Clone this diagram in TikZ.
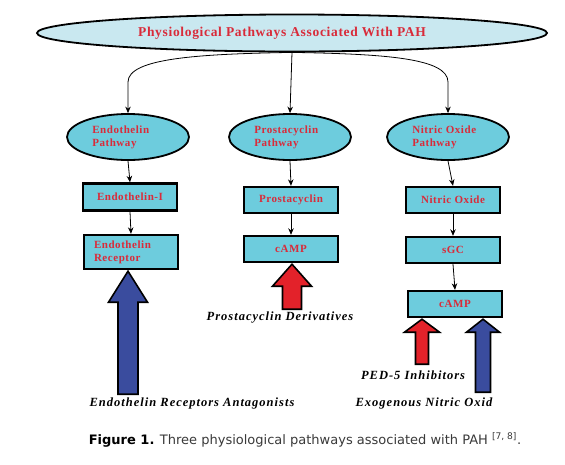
\documentclass[tikz,border=0pt]{standalone}
\usepackage{fontspec}
\setmainfont{Liberation Serif}
\newfontfamily\boxfont{Liberation Serif}[LetterSpace=5]
\newfontfamily\lblfont{Liberation Serif}[LetterSpace=8]
\newfontfamily\capfont{DejaVu Sans}
\usetikzlibrary{shapes.geometric,arrows.meta,calc}
\definecolor{boxcyan}{HTML}{6DCCDD}
\definecolor{topblue}{HTML}{C9E8F0}
\definecolor{txtred}{HTML}{D92B3A}
\definecolor{arrblue}{HTML}{3A4C9E}
\definecolor{arrred}{HTML}{E3222A}
\definecolor{capgray}{HTML}{3A3A3A}
\newcommand\blkarrow[6]{%
  \path (#1) coordinate (bt);
  \draw[blkarr, fill=#6] (bt) -- ($(bt)+(#2,#4)$) -- ($(bt)+(#3,#4)$) -- ($(bt)+(#3,#5)$)
    -- ($(bt)+(-#3,#5)$) -- ($(bt)+(-#3,#4)$) -- ($(bt)+(-#2,#4)$) -- cycle;}
\begin{document}
\begin{tikzpicture}[x=1pt,y=-1pt,
  pathell/.style={ellipse, draw=black, line width=1.8pt, fill=boxcyan, minimum width=122pt,
    minimum height=46pt, inner sep=0pt},
  stepbox/.style={rectangle, draw=black, line width=2.4pt, fill=boxcyan, minimum width=94pt,
    minimum height=26pt, inner sep=0pt, font=\boxfont\fontsize{11}{13}\selectfont\bfseries,
    text=txtred, align=left},
  redtxt/.style={font=\boxfont\fontsize{11}{13}\selectfont\bfseries, text=txtred, align=left, inner sep=0pt},
  conn/.style={-{Stealth[length=6.5pt,width=5.5pt]}, line width=0.8pt},
  lbl/.style={font=\lblfont\fontsize{12.5}{14}\selectfont\bfseries\itshape, text=black},
  blkarr/.style={draw=black, line width=1.6pt, line join=miter}
]
\useasboundingbox[fill=white] (0,0) rectangle (565,464);

\node[ellipse, draw=black, line width=1.8pt, fill=topblue, minimum width=510pt, minimum height=37pt,
  inner sep=0pt] (top) at (292,33) {};
\node[text=txtred, font=\boxfont\fontsize{13.5}{16}\selectfont\bfseries] (title) at (282,33)
  {Physiological Pathways Associated With PAH};

\node[pathell] (e1) at (128,137) {};
\node[pathell] (e2) at (290,137) {};
\node[pathell] (e3) at (448,137) {};
\node[redtxt, anchor=west] (e1t) at ([xshift=26pt]e1.west) {Endothelin\\Pathway};
\node[redtxt, anchor=west] (e2t) at ([xshift=26pt]e2.west) {Prostacyclin\\Pathway};
\node[redtxt, anchor=west] (e3t) at ([xshift=26pt]e3.west) {Nitric Oxide\\Pathway};

\node[stepbox, minimum height=27pt] (b1) at (130,197) {Endothelin-I};
\node[stepbox, minimum height=34pt] (b2) at (131,252) {};
\node[redtxt, anchor=west] (b2t) at ([xshift=11pt]b2.west) {Endothelin\\Receptor};
\node[stepbox] (p1) at (291,200) {Prostacyclin};
\node[stepbox] (p2) at (291,249) {cAMP};
\node[stepbox] (n1) at (453,200) {Nitric Oxide};
\node[stepbox] (n2) at (453,250) {sGC};
\node[stepbox] (n3) at (455,304) {cAMP};

\draw[conn] (top.south) -- (e2.north);
\draw[conn] (top.south) .. controls (200,54) and (128,58) .. (128,82) -- (e1.north);
\draw[conn] (top.south) .. controls (384,54) and (448,58) .. (448,82) -- (e3.north);

\draw[conn] (e1.south) -- (b1.north);
\draw[conn] (b1.south) -- (b2.north);
\draw[conn] (e2.south) -- (p1.north);
\draw[conn] (p1.south) -- (p2.north);
\draw[conn] (e3.south) -- (n1.north);
\draw[conn] (n1.south) -- (n2.north);
\draw[conn] (n2.south) -- (n3.north);

\blkarrow{$(b2.south)+(-3,1)$}{19.5}{10}{31}{123}{arrblue}
\blkarrow{$(p2.south)+(1,1)$}{19.5}{9.5}{22}{45}{arrred}
\blkarrow{$(n3.south)+(-33,1)$}{17.5}{6.5}{13}{45}{arrred}
\blkarrow{$(n3.south)+(28,1)$}{16.5}{7.5}{13}{73}{arrblue}

\node[lbl] (l1) at (192,403) {Endothelin Receptors Antagonists};
\node[lbl] (l2) at (280,318) {Prostacyclin Derivatives};
\node[lbl] (l3) at (413,375) {PED-5 Inhibitors};
\node[lbl] (l4) at (424,403) {Exogenous Nitric Oxid};

\node[font=\capfont\fontsize{13}{15}\selectfont, text=capgray] (cap) at (305,440)
  {{\bfseries\color{black}Figure 1.} Three physiological pathways associated with PAH \textsuperscript{[7, 8]}.};
\end{tikzpicture}
\end{document}
